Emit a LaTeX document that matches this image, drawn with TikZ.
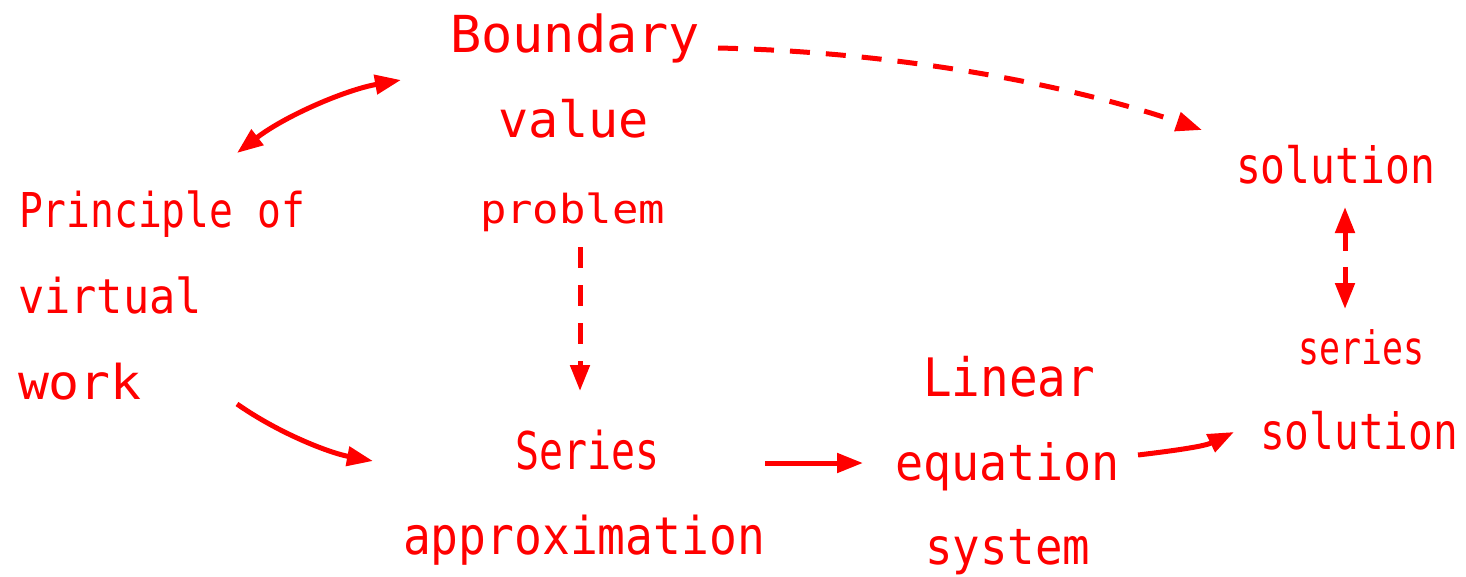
\documentclass[tikz,border=0pt]{standalone}
\usepackage{fontspec}
\setmainfont{DejaVu Sans Mono}
\usepackage{graphicx}
\usetikzlibrary{arrows.meta}
\newcommand\fitw[3]{\resizebox{#1pt}{\height}{\fontsize{#2}{#2}\selectfont #3}}
\tikzset{
  lbl/.style={text=red, anchor=base west, inner sep=0pt, outer sep=0pt},
  conn/.style={draw=red, line width=5pt, -{Triangle[length=26pt,width=19pt]}},
  dconn/.style={draw=red, line width=5pt, {Triangle[length=26pt,width=19pt]}-{Triangle[length=26pt,width=19pt]}},
  dsh/.style={dash pattern=on 20pt off 16pt}
}
\begin{document}
\begin{tikzpicture}[x=1pt,y=-1pt]
\useasboundingbox (0,0) rectangle (1466,576);
% labels
\node[lbl] (bnd)  at (450,52)  {\fitw{250}{51}{Boundary}};
\node[lbl] (val)  at (498,137) {\fitw{151}{50}{value}};
\node[lbl] (prb)  at (480,223) {\fitw{185}{40}{problem}};
\node[lbl] (pri)  at (19,227)  {\fitw{286}{48}{Principle of}};
\node[lbl] (vir)  at (18,313)  {\fitw{184}{48}{virtual}};
\node[lbl] (wrk)  at (18,399)  {\fitw{124}{48}{work}};
\node[lbl] (sol)  at (1236,183) {\fitw{199}{50}{solution}};
\node[lbl] (ser)  at (1298,364) {\fitw{126}{46}{series}};
\node[lbl] (sol2) at (1260,449) {\fitw{198}{50}{solution}};
\node[lbl] (lin)  at (923,396) {\fitw{172}{53}{Linear}};
\node[lbl] (eq)   at (895,480) {\fitw{225}{50}{equation}};
\node[lbl] (sys)  at (925,564) {\fitw{165}{50}{system}};
\node[lbl] (sers) at (515,469) {\fitw{144}{52}{Series}};
\node[lbl] (app)  at (403,554) {\fitw{362}{52}{approximation}};
% connector ends
\coordinate (a1s) at (237,153);
\coordinate (a1e) at (401,80);
\coordinate (a2s) at (718,48);
\coordinate (a2e) at (1202,130);
\coordinate (a3s) at (580,247);
\coordinate (a3e) at (580,391);
\coordinate (a4s) at (237,404);
\coordinate (a4e) at (373,461);
\coordinate (a5s) at (765,463);
\coordinate (a5e) at (863,463);
\coordinate (a6s) at (1138,455);
\coordinate (a6e) at (1234,432);
\coordinate (a7s) at (1345,207);
\coordinate (a7e) at (1345,309);
% connectors
\draw[dconn] (a1s) .. controls (285,116) and (345,90) .. (a1e);
\draw[conn,dsh] (a2s) .. controls (900,52) and (1070,85) .. (a2e);
\draw[conn,dash pattern=on 21pt off 17pt] (a3s) -- (a3e);
\draw[conn] (a4s) .. controls (280,434) and (330,453) .. (a4e);
\draw[conn] (a5s) -- (a5e);
\draw[conn] (a6s) .. controls (1180,450) and (1205,446) .. (a6e);
\draw[dconn,dash pattern=on 19pt off 16pt] (a7s) -- (a7e);
\end{tikzpicture}
\end{document}
